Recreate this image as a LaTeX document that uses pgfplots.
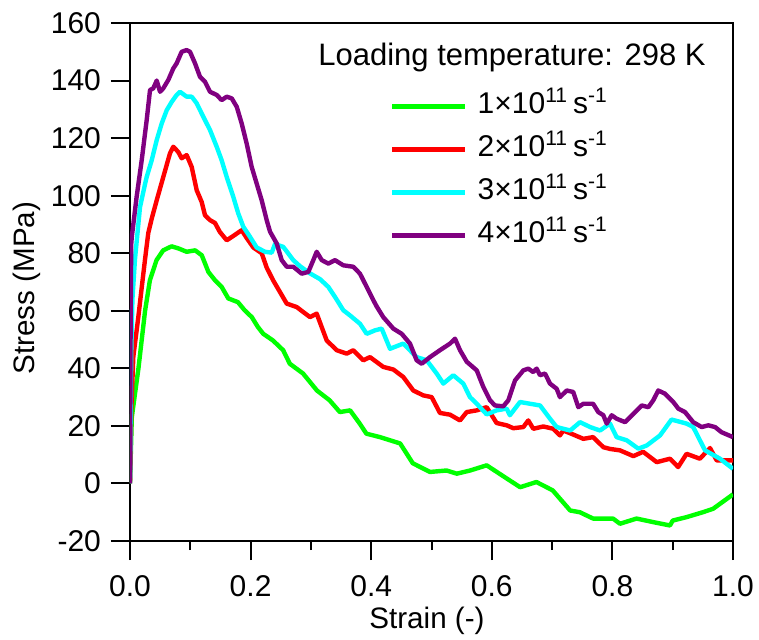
\documentclass[border=0pt]{standalone}
\usepackage{pgfplots}
\pgfplotsset{compat=1.18}
\usepackage{fontspec}
\setmainfont{Liberation Sans}
\definecolor{cgreen}{RGB}{0,255,0}
\definecolor{cred}{RGB}{255,0,0}
\definecolor{ccyan}{RGB}{0,255,255}
\definecolor{cpurple}{RGB}{128,0,128}
\begin{document}
\begin{tikzpicture}
\begin{axis}[
  scale only axis,
  width=301.5pt, height=259pt,
  xmin=0, xmax=1, ymin=-20, ymax=160,
  xtick={0,0.2,0.4,0.6,0.8,1.0},
  xticklabels={0.0,0.2,0.4,0.6,0.8,1.0},
  minor x tick num=1,
  ytick={-20,0,20,40,60,80,100,120,140,160},
  yticklabels={-20,0,20,40,60,80,100,120,140,160},
  tick align=outside,
  tick pos=left,
  major tick length=9.5pt,
  minor tick length=4.5pt,
  every tick/.style={black, line width=1pt},
  axis line style={line width=1pt},
  tick label style={font=\fontsize{15}{17}\selectfont},
  xticklabel style={yshift=-4pt},
  yticklabel style={xshift=-1.5pt},
  label style={font=\fontsize{14.8}{17}\selectfont},
  xlabel={Strain (-)},
  ylabel={Stress (MPa)},
  xlabel style={at={(axis description cs:0.4925,-0.155)}, anchor=center},
  ylabel style={at={(axis description cs:-0.1708,0.488)}, anchor=center},
  legend style={draw=none, fill=none, at={(0.431,0.865)}, anchor=north west,
    inner sep=0pt, row sep=8.5pt, column sep=5pt,
    font=\fontsize{15}{17}\selectfont,
    nodes={inner sep=0pt, text height=10pt, text depth=3pt}},
  legend cell align=left,
  legend image code/.code={\draw[#1] (0pt,0pt) -- (36.5pt,0pt);},
  every axis plot/.append style={line width=2.2pt, line join=round},
]
\addplot[cgreen] coordinates {
(0,0)(0.003,23)(0.014,40)(0.025,60)(0.033,70.6)(0.044,77.6)(0.055,81)(0.069,82.4)(0.08,81.7)(0.094,80.5)(0.108,81)(0.119,79.3)(0.13,73.5)(0.141,70.6)(0.152,68.3)(0.163,64.3)(0.179,63)(0.19,60.2)(0.202,57.8)(0.212,54.4)(0.221,52)(0.237,49.7)(0.254,46.3)(0.265,41.6)(0.287,38.2)(0.31,32.3)(0.331,28.9)(0.348,24.8)(0.365,25.4)(0.381,20.8)(0.392,17.3)(0.4146,16.1)(0.448,13.9)(0.469,7)(0.4975,4)(0.525,4.5)(0.542,3.4)(0.564,4.5)(0.5915,6.3)(0.625,1.7)(0.647,-1.3)(0.674,0.5)(0.701,-2.4)(0.73,-9.4)(0.746,-10)(0.768,-12.2)(0.801,-12.2)(0.8126,-14)(0.84,-12.2)(0.867,-13.4)(0.8955,-14.6)(0.9,-12.9)(0.923,-11.7)(0.95,-10)(0.967,-8.8)(1.0,-3.8)
};
\addlegendentry{1×10\textsuperscript{11}\,s\textsuperscript{-1}}
\addplot[cred] coordinates {
(0,0)(0.002,25)(0.0055,44)(0.0138,57.8)(0.0194,68)(0.025,78)(0.0303,87)(0.036,92)(0.0443,98.4)(0.0552,106.5)(0.0663,114.7)(0.0718,117)(0.080,115.2)(0.0857,113)(0.094,114.1)(0.1023,110)(0.1106,101.9)(0.1189,97.8)(0.1244,93.2)(0.1327,91.5)(0.141,90.5)(0.149,87.4)(0.1604,84.5)(0.1713,86)(0.1852,88)(0.1935,85.3)(0.2045,82)(0.2184,80)(0.2267,75)(0.2376,70.5)(0.2599,62.5)(0.2764,61.3)(0.2985,57.8)(0.3096,59)(0.3262,49.7)(0.3428,46.3)(0.3594,45.1)(0.3703,46.3)(0.3869,42.8)(0.398,43.9)(0.42,40.5)(0.4367,39.6)(0.4532,37)(0.4698,32.3)(0.4864,30.6)(0.5003,30)(0.514,24.5)(0.5307,23.9)(0.5473,21.9)(0.5584,24.8)(0.575,25.4)(0.5915,26.5)(0.608,21)(0.6247,20.2)(0.6357,19.2)(0.6523,19.6)(0.6605,21.9)(0.6688,19)(0.6854,19.8)(0.702,19)(0.713,16.7)(0.7186,18.4)(0.735,17)(0.7518,15.5)(0.768,16.1)(0.785,12.6)(0.796,12)(0.8126,11.5)(0.8347,9.5)(0.851,11)(0.8735,7.4)(0.8955,8.6)(0.909,5.7)(0.923,10.3)(0.945,8.6)(0.9619,12.3)(0.973,8)(1.0,8)
};
\addlegendentry{2×10\textsuperscript{11}\,s\textsuperscript{-1}}
\addplot[ccyan] coordinates {
(0,0)(0.002,45)(0.004,64)(0.0083,78)(0.0138,90)(0.0166,96)(0.0249,104)(0.0277,106.5)(0.036,112.3)(0.0443,119.3)(0.0526,125.1)(0.0609,129.7)(0.0692,132.6)(0.0774,135)(0.0829,136.1)(0.094,134.4)(0.1023,134.4)(0.1106,132.1)(0.1216,127.4)(0.1327,122.8)(0.1438,117)(0.152,112.3)(0.1604,106.5)(0.1713,99.6)(0.1796,93.8)(0.1879,89.2)(0.199,85.7)(0.2101,82)(0.2239,80.5)(0.235,80.2)(0.2405,83.2)(0.2542,82.2)(0.2708,77.6)(0.2819,75.5)(0.2985,73)(0.3151,71)(0.3289,68.3)(0.34,64.8)(0.3537,60.2)(0.3648,58.4)(0.3814,55.5)(0.3925,52)(0.4063,53.2)(0.4174,53.8)(0.4312,46.8)(0.4532,48.6)(0.4754,43.9)(0.492,42.8)(0.5086,38.2)(0.5196,34.7)(0.5362,37.6)(0.5527,34.7)(0.5638,30)(0.575,27.7)(0.5915,24)(0.608,25.4)(0.6247,26)(0.63,23.7)(0.6468,28.3)(0.6633,27.7)(0.68,27.1)(0.6965,22.5)(0.7076,19.6)(0.73,18.4)(0.7463,21.3)(0.763,19.6)(0.7794,18.4)(0.796,20.8)(0.807,16.1)(0.8237,15)(0.843,12.1)(0.857,13.2)(0.879,16.7)(0.898,22.2)(0.923,20.8)(0.934,19.6)(0.9536,11.5)(0.9784,8.6)(1.0,5.1)
};
\addlegendentry{3×10\textsuperscript{11}\,s\textsuperscript{-1}}
\addplot[cpurple] coordinates {
(0,0)(0.001,55)(0.002,83)(0.003,85.7)(0.011,99.6)(0.0194,112.3)(0.0277,126.3)(0.0332,136.7)(0.0386,137.3)(0.0443,140)(0.0498,136.1)(0.0552,137.3)(0.0635,140.2)(0.0718,144.2)(0.0774,146)(0.0857,150)(0.094,150.6)(0.0995,150)(0.1078,146)(0.1161,141.3)(0.1244,139.6)(0.1327,136.1)(0.1438,135)(0.152,133.2)(0.1604,134.4)(0.1687,133.8)(0.177,130.9)(0.1852,125.1)(0.1935,118.1)(0.2018,110)(0.2101,104.2)(0.2184,98.4)(0.2267,91.5)(0.2322,87.5)(0.2376,85.5)(0.2433,83.4)(0.2516,77.6)(0.26,75.3)(0.2708,75.3)(0.2847,72.9)(0.2957,73.5)(0.304,77.6)(0.3096,80.5)(0.318,77.6)(0.3289,76.4)(0.34,77.6)(0.3537,75.8)(0.3703,75.3)(0.3814,72.9)(0.3925,68.3)(0.4035,63.7)(0.4091,61.5)(0.42,57.8)(0.4367,53.8)(0.4506,52)(0.4643,48.6)(0.4754,42.8)(0.4837,41.6)(0.4975,43.9)(0.514,46.3)(0.5307,48.6)(0.539,50.3)(0.5473,46.3)(0.5584,42.3)(0.575,39.3)(0.586,33.5)(0.597,28.9)(0.6053,27.1)(0.619,26.8)(0.6274,28.9)(0.6385,35.8)(0.6523,39.3)(0.6605,39.9)(0.6688,38.7)(0.6744,39.9)(0.68,37.6)(0.6882,38.2)(0.6965,34.7)(0.7076,32.9)(0.713,30)(0.7242,32.3)(0.735,31.8)(0.7435,26.5)(0.7518,27.7)(0.768,27.7)(0.7766,24.8)(0.785,23.7)(0.7905,20.8)(0.7988,23.7)(0.807,22.5)(0.821,21.3)(0.8347,24.2)(0.8486,27.1)(0.8596,26.5)(0.8678,28.9)(0.876,32.3)(0.8872,31.2)(0.901,28.3)(0.9093,26)(0.9204,24.8)(0.934,21.3)(0.948,19.6)(0.959,20.2)(0.9702,19.6)(0.981,17.8)(1.0,16.1)
};
\addlegendentry{4×10\textsuperscript{11}\,s\textsuperscript{-1}}
\node[anchor=base west, inner sep=0pt, font=\fontsize{15.5}{17}\selectfont] at (rel axis cs:0.3118,0.917) {Loading temperature: 298 K};
\end{axis}
\pgfresetboundingbox
\path[use as bounding box] (-65pt,-49pt) rectangle (314.5pt,270.5pt);
\end{tikzpicture}
\end{document}
